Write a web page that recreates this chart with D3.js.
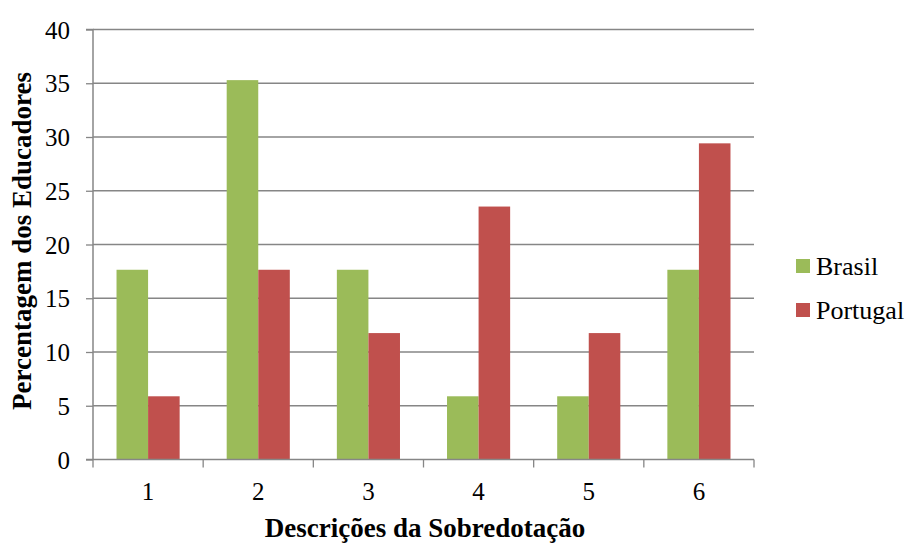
<!DOCTYPE html>
<html><head><meta charset="utf-8">
<script src="https://cdn.jsdelivr.net/npm/d3@7"></script>
<style>body{margin:0;background:#fff}svg{display:block}svg text{font-family:'Liberation Serif','Times New Roman',serif}</style>
</head><body>
<script>
const categories = ["1","2","3","4","5","6"];
const seriesNames = ["Brasil","Portugal"];
const brasil = [17.65, 35.29, 17.65, 5.88, 5.88, 17.65];
const portugal = [5.88, 17.65, 11.76, 23.53, 11.76, 29.41];
const yTicks = [0,5,10,15,20,25,30,35,40];
const colors = ["#9BBB59","#C0504D"];

(function(){
const W=908,H=543;
const svg=d3.select("body").append("svg").attr("width",W).attr("height",H);
const pL=93,pR=754,pT=29.5,pB=459.5;
const x=d3.scaleBand().domain(categories).range([pL,pR]).paddingInner(0.427).paddingOuter(0.2135);
const xs=d3.scaleBand().domain(seriesNames).range([0,x.bandwidth()]);
const y=d3.scaleLinear().domain([0,40]).range([pB,pT]);

// grid
svg.append("g").selectAll("line").data(yTicks.filter(d=>d>0)).join("line")
 .attr("x1",pL).attr("x2",pR).attr("y1",d=>y(d)).attr("y2",d=>y(d))
 .attr("stroke","#868686").attr("stroke-width",1.3);

// bars
const data=[brasil,portugal];
seriesNames.forEach((s,i)=>{
 svg.append("g").selectAll("rect").data(categories).join("rect")
  .attr("x",(c)=>x(c)+xs(s)).attr("width",xs.bandwidth())
  .attr("y",(c,j)=>y(data[i][j])).attr("height",(c,j)=>pB-y(data[i][j]))
  .attr("fill",colors[i]);
});

// y axis
const ya=svg.append("g").attr("transform",`translate(${pL},0)`)
 .call(d3.axisLeft(y).tickValues(yTicks).tickSize(7).tickPadding(16));
ya.attr("font-family",null).attr("font-size",null);
ya.select(".domain").attr("stroke","#868686").attr("stroke-width",1.5).attr("d",`M-7,${pT}H0V${pB}`);
ya.selectAll(".tick line").attr("stroke","#868686").attr("stroke-width",1.3);
ya.selectAll("text").style("font-size","25px").attr("fill","#000").attr("dy","0.34em");

// x axis
const xa=svg.append("g").attr("transform",`translate(0,${pB})`);
xa.append("line").attr("x1",pL-7).attr("x2",pR).attr("y1",0).attr("y2",0).attr("stroke","#868686").attr("stroke-width",1.5);
const bounds=d3.range(categories.length+1).map(i=>pL+i*(pR-pL)/categories.length);
xa.selectAll("line.t").data(bounds).join("line").attr("class","t")
 .attr("x1",d=>d).attr("x2",d=>d).attr("y1",0).attr("y2",8).attr("stroke","#868686").attr("stroke-width",1.3);
xa.selectAll("text").data(categories).join("text")
 .attr("x",c=>x(c)+x.bandwidth()/2).attr("y",40.5).attr("text-anchor","middle")
 .style("font-size","25px").text(c=>c);

// titles
svg.append("text").attr("x",425).attr("y",537).attr("text-anchor","middle")
 .style("font-size","27px").attr("font-weight","bold").text("Descrições da Sobredotação");
svg.append("text").attr("transform","translate(31,241) rotate(-90)").attr("text-anchor","middle")
 .style("font-size","27px").attr("font-weight","bold").text("Percentagem dos Educadores");

// legend
const lg=svg.append("g").attr("transform","translate(796,259)");
seriesNames.forEach((s,i)=>{
 lg.append("rect").attr("x",0).attr("y",i*44).attr("width",14).attr("height",14).attr("fill",colors[i]);
 lg.append("text").attr("x",20).attr("y",i*44+16).style("font-size","26px").text(s);
});
})();
</script>
</body></html>
